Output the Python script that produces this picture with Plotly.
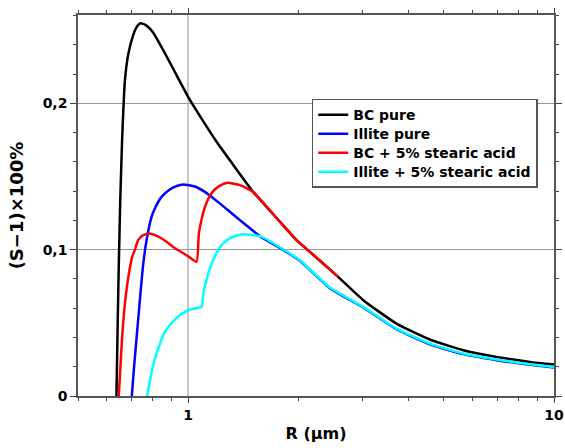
import plotly.graph_objects as go

# ---- data (R in µm, (S-1)x100%) ----
bc_pure_r = [0.6369, 0.6414, 0.6463, 0.6525, 0.6600, 0.6642, 0.6713, 0.6854, 0.7075, 0.7219, 0.7410,
             0.7660, 0.8020, 0.8502, 0.9064, 1.0, 1.0764, 1.2079, 1.3506, 1.5055, 1.750, 1.979, 2.2,
             2.571, 3.011, 3.71, 4.58, 5.65, 6.97, 8.6, 10.0]
bc_pure_s = [0.0, 0.045, 0.0894, 0.135, 0.175, 0.192, 0.2148, 0.233, 0.2467, 0.2518, 0.2547,
             0.2535, 0.2485, 0.2375, 0.2245, 0.2045, 0.1915, 0.1722, 0.1555, 0.1395, 0.1213, 0.1065, 0.0964,
             0.0814, 0.0655, 0.0495, 0.0386, 0.0313, 0.0267, 0.0233, 0.0215]

illite_pure_r = [0.7015, 0.7127, 0.7253, 0.7377, 0.7533, 0.7697, 0.7943, 0.8159, 0.8458, 0.8911, 0.9300,
                 0.9690, 1.043, 1.1107, 1.2079, 1.3846, 1.5866, 1.8, 2.020, 2.4417, 3.011, 3.71, 4.58,
                 5.65, 6.97, 8.6, 10.0]
illite_pure_s = [0.0, 0.022, 0.0438, 0.065, 0.0894, 0.1065, 0.1224, 0.1295, 0.1361, 0.1412, 0.1435,
                 0.1446, 0.1432, 0.1395, 0.1325, 0.1202, 0.1085, 0.1006, 0.0924, 0.0737, 0.0605, 0.0457,
                 0.0354, 0.0286, 0.0245, 0.0213, 0.0194]

bc_sa_r = [0.6463, 0.6616, 0.6756, 0.6934, 0.7037, 0.7149, 0.7301, 0.7517, 0.7823, 0.8157, 0.8635,
           0.9100, 1.0, 1.0537, 1.0697, 1.0866, 1.1111, 1.1474, 1.1907, 1.2365, 1.2862, 1.3846, 1.5055,
           1.750, 1.979, 2.2, 2.571]
bc_sa_s = [0.0, 0.0438, 0.069, 0.0880, 0.0955, 0.0997, 0.1065, 0.1098, 0.1111, 0.1098, 0.1063,
           0.1019, 0.0955, 0.0917, 0.111, 0.120, 0.129, 0.137, 0.1418, 0.1445, 0.1457, 0.1441, 0.1395,
           0.1213, 0.1065, 0.0964, 0.0814]

illite_sa_r = [0.7726, 0.802, 0.830, 0.8636, 0.90, 0.9491, 1.0, 1.05, 1.088, 1.1005, 1.1217, 1.1536,
               1.1904, 1.2284, 1.2839, 1.3502, 1.4139, 1.4937, 1.5866, 1.8, 2.020, 2.4417, 3.011, 3.71,
               4.58, 5.65, 6.97, 8.6, 10.0]
illite_sa_s = [0.0, 0.021, 0.033, 0.0438, 0.0497, 0.0552, 0.0586, 0.0600, 0.0609, 0.070, 0.079, 0.089,
               0.097, 0.1025, 0.1070, 0.1095, 0.1106, 0.1100, 0.1089, 0.1010, 0.0928, 0.0741, 0.0609,
               0.0461, 0.0358, 0.029, 0.0249, 0.0217, 0.0198]

series_names = ["BC pure", "Illite pure", "BC + 5% stearic acid", "Illite + 5% stearic acid"]
series_colors = ["#000000", "#0000ff", "#ff0000", "#00ffff"]

x_tick_vals = [1, 10]
x_tick_text = ["1", "10"]
x_minor_vals = [0.5, 0.6, 0.7, 0.8, 0.9, 2, 3, 4, 5, 6, 7, 8, 9]
y_tick_vals = [0, 0.1, 0.2]
y_tick_text = ["0", "0,1", "0,2"]

FONT = "DejaVu Sans"

fig = go.Figure()
for r, s, name, col in zip([bc_pure_r, illite_pure_r, bc_sa_r, illite_sa_r],
                           [bc_pure_s, illite_pure_s, bc_sa_s, illite_sa_s],
                           series_names, series_colors):
    fig.add_trace(go.Scatter(
        x=r, y=s, mode="lines",
        name="<span style='font-size:14px'>" + name + "</span>",
        line=dict(color=col, width=2.5, shape="spline", smoothing=0.5)))

axis_common = dict(showline=True, linecolor="#555555", linewidth=1.5, mirror="allticks",
                   ticks="outside", tickcolor="#444444", tickwidth=1.2,
                   tickfont=dict(family=FONT, size=14, color="#000000", weight="bold"),
                   zeroline=False, automargin=False)

fig.update_xaxes(type="log", range=[-0.30103, 1.0],
                 tickvals=x_tick_vals, ticktext=x_tick_text, ticklen=5,
                 minor=dict(tickvals=x_minor_vals, ticks="outside", ticklen=3, tickcolor="#444444",
                            showgrid=False),
                 showgrid=True, gridcolor="#c8c8c8", gridwidth=2,
                 title=dict(text="<b>R (µm)</b>", font=dict(family=FONT, size=16, color="#000"),
                            standoff=6),
                 **axis_common)
fig.update_yaxes(range=[0, 0.2604], tickvals=y_tick_vals, ticktext=y_tick_text, ticklen=6,
                 minor=dict(dtick=0.02, ticks="outside", ticklen=3, tickcolor="#444444", showgrid=False),
                 showgrid=True, gridcolor="#999999", gridwidth=1,
                 title=dict(text="<b>(S−1)×100%</b>", font=dict(family=FONT, size=18, color="#000"),
                            standoff=14),
                 **axis_common)

fig.update_layout(
    width=565, height=448,
    margin=dict(l=78, r=11, t=15, b=52),
    paper_bgcolor="white", plot_bgcolor="white",
    font=dict(family=FONT, size=14, color="#000"),
    separators=", ",
    showlegend=True,
    legend=dict(x=0.491, y=0.7800, xanchor="left", yanchor="top",
                bgcolor="white", bordercolor="#555555", borderwidth=1.5,
                font=dict(family=FONT, size=12, color="#000", weight="bold"),
                tracegroupgap=0, itemwidth=30),
)

fig.write_html("out.html", config={"displayModeBar": False},
               post_script="document.body.style.margin='0';")
